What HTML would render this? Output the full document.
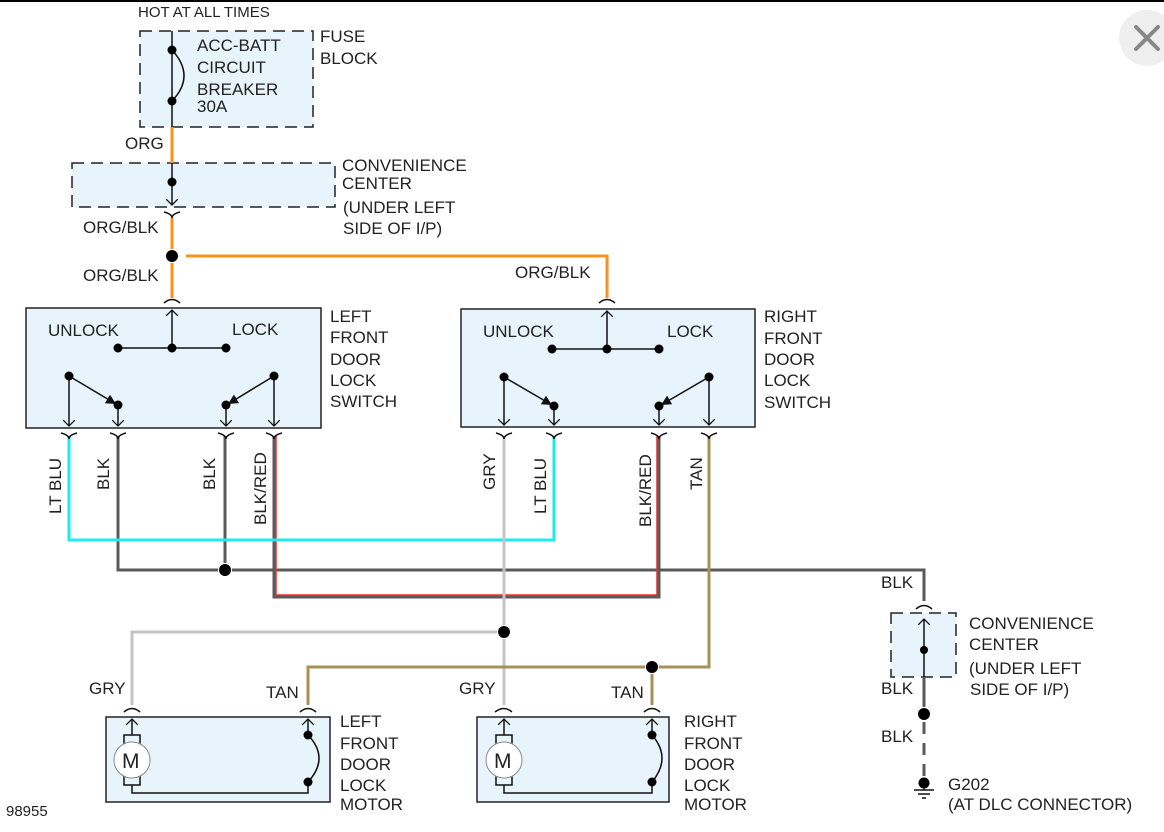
<!DOCTYPE html>
<html><head><meta charset="utf-8"><style>
html,body{margin:0;padding:0;background:#fff;}
svg{display:block;}
text{font-family:"Liberation Sans",sans-serif;font-size:17px;fill:#222;}
</style></head><body>
<svg width="1164" height="832" viewBox="0 0 1164 832" xmlns="http://www.w3.org/2000/svg">
<defs>
<marker id="ar" markerWidth="12" markerHeight="12" refX="6" refY="6" orient="auto" markerUnits="userSpaceOnUse">
<path d="M0,0 L6,6 L0,12" fill="none" stroke="#111" stroke-width="1.3"/>
</marker>
<marker id="af" markerWidth="12" markerHeight="10" refX="10" refY="5" orient="auto" markerUnits="userSpaceOnUse">
<path d="M0,0 L10,5 L0,10 z" fill="#111"/>
</marker>
</defs>
<rect x="0" y="0" width="1164" height="2" fill="#000"/>
<circle cx="1147" cy="38" r="28" fill="#efefef"/>
<path d="M1136,27 L1158,49 M1158,27 L1136,49" stroke="#888" stroke-width="4" stroke-linecap="round"/>

<g fill="#e8f4fb" stroke="#222" stroke-width="1.5">
<rect x="140" y="31" width="173" height="96" stroke-dasharray="12,7"/>
<rect x="72" y="163" width="263" height="44" stroke-dasharray="12,7"/>
<rect x="26" y="308" width="295" height="120"/>
<rect x="461" y="309" width="294" height="118"/>
<rect x="106" y="717" width="224" height="85"/>
<rect x="477" y="717" width="192" height="85"/>
<rect x="891" y="613" width="65" height="64" stroke-dasharray="12,7"/>
</g>

<g fill="none" stroke-width="3">
<path d="M172,127 V163" stroke="#f7931e"/>
<path d="M172,218 V249" stroke="#f7931e"/>
<path d="M172,263 V298" stroke="#f7931e"/>
<path d="M186,256 H607 V298" stroke="#f7931e"/>
<path d="M118,436 V570 H218" stroke="#5a5a5a"/>
<path d="M225,436 V563" stroke="#5a5a5a"/>
<path d="M232,570 H924 V601" stroke="#5a5a5a"/>
<path d="M274,436 V597 H659 V436" stroke="#5a5a5a"/>
<path d="M276,436 V595 H657 V436" stroke="#e8302a" stroke-width="1.5"/>
<path d="M69,436 V540 H554 V436" stroke="#1eeaf0"/>
<path d="M504,436 V625 M504,639 V705 M497,632 H132 V705" stroke="#c4c4c4"/>
<path d="M709,436 V667 H659 M645,667 H308 V705 M652,674 V705" stroke="#a89058"/>
<path d="M924,677 V707" stroke="#5a5a5a"/>
<path d="M924,722 V776" stroke="#5a5a5a" stroke-dasharray="12,9"/>
</g>

<g fill="none" stroke="#111" stroke-width="1.5">
<path d="M172,31 V127"/>
<path d="M172,50 Q196,76 172,101"/>
<path d="M172,163 V205" marker-end="url(#ar)"/>
<path d="M172,348 V310" marker-end="url(#ar)"/>
<path d="M118,348 H226"/>
<path d="M69,376 V426" marker-end="url(#ar)"/>
<path d="M69,376 L116,404" marker-end="url(#af)"/>
<path d="M118,405 V426" marker-end="url(#ar)"/>
<path d="M274,376 L228,404" marker-end="url(#af)"/>
<path d="M226,405 V426" marker-end="url(#ar)"/>
<path d="M274,376 V426" marker-end="url(#ar)"/>
<path d="M607,349 V311" marker-end="url(#ar)"/>
<path d="M552,349 H659"/>
<path d="M504,377 V425" marker-end="url(#ar)"/>
<path d="M504,377 L552,405" marker-end="url(#af)"/>
<path d="M554,406 V425" marker-end="url(#ar)"/>
<path d="M709,377 L661,405" marker-end="url(#af)"/>
<path d="M659,406 V425" marker-end="url(#ar)"/>
<path d="M709,377 V425" marker-end="url(#ar)"/>
<path d="M164,212 Q172,214 172,218 Q172,214 180,212"/>
<path d="M164,303 Q172,296 180,303"/>
<path d="M599,303 Q607,296 615,303"/>
<g id="cb">
<path d="M61,433 Q69,435 69,439 Q69,435 77,433"/>
</g>
<use href="#cb" x="49"/><use href="#cb" x="157"/><use href="#cb" x="205"/>
<use href="#cb" x="435"/><use href="#cb" x="485"/><use href="#cb" x="590"/><use href="#cb" x="640"/>
<path d="M124,712 Q132,705 140,712"/>
<path d="M300,712 Q308,705 316,712"/>
<path d="M495,712 Q504,705 512,712"/>
<path d="M644,712 Q652,705 660,712"/>
<path d="M916,609 Q924,602 932,609"/>
<path d="M132,735 V719" marker-end="url(#ar)"/>
<rect x="124" y="735" width="16" height="50" fill="none"/>
<path d="M132,785 V793 H308 V782"/>
<path d="M308,782 Q330,758 308,735"/>
<path d="M308,735 V719" marker-end="url(#ar)"/>
<path d="M504,735 V719" marker-end="url(#ar)"/>
<rect x="496" y="735" width="16" height="50" fill="none"/>
<path d="M504,785 V793 H652 V782"/>
<path d="M652,782 Q672,758 652,735"/>
<path d="M652,735 V719" marker-end="url(#ar)"/>
<path d="M924,650 V619" marker-end="url(#ar)"/>
<path d="M924,650 V677"/>
<path d="M924,783 V790 M914,790 H934 M918,794 H930 M922,798 H926"/>
</g>
<circle cx="132" cy="760" r="18" fill="#fff" stroke="#888" stroke-width="1"/>
<circle cx="504" cy="760" r="18" fill="#fff" stroke="#888" stroke-width="1"/>
<text x="122" y="768" style="font-size:21px">M</text>
<text x="494" y="768" style="font-size:21px">M</text>

<g fill="#000">
<circle cx="172" cy="50" r="4.5"/><circle cx="172" cy="101" r="4.5"/>
<circle cx="172" cy="182" r="4.5"/><circle cx="172" cy="256" r="6"/>
<circle cx="118" cy="348" r="4.5"/><circle cx="172" cy="348" r="4.5"/><circle cx="226" cy="348" r="4.5"/>
<circle cx="69" cy="376" r="4.5"/><circle cx="118" cy="405" r="4.5"/><circle cx="226" cy="405" r="4.5"/><circle cx="274" cy="376" r="4.5"/>
<circle cx="552" cy="349" r="4.5"/><circle cx="607" cy="349" r="4.5"/><circle cx="659" cy="349" r="4.5"/>
<circle cx="504" cy="377" r="4.5"/><circle cx="554" cy="406" r="4.5"/><circle cx="659" cy="406" r="4.5"/><circle cx="709" cy="377" r="4.5"/>
<circle cx="225" cy="570" r="6"/><circle cx="504" cy="632" r="6"/><circle cx="652" cy="667" r="6"/>
<circle cx="308" cy="735" r="4.5"/><circle cx="308" cy="782" r="4.5"/>
<circle cx="652" cy="735" r="4.5"/><circle cx="652" cy="782" r="4.5"/>
<circle cx="924" cy="650" r="4"/><circle cx="924" cy="714" r="6"/><circle cx="924" cy="783" r="5.5"/>
</g>

<text x="138" y="17" style="font-size:15px">HOT AT ALL TIMES</text>
<text x="197" y="51">ACC-BATT</text><text x="197" y="73">CIRCUIT</text><text x="197" y="95">BREAKER</text><text x="197" y="112">30A</text>
<text x="320" y="42">FUSE</text><text x="320" y="64">BLOCK</text>
<text x="125" y="149">ORG</text>
<text x="342" y="171">CONVENIENCE</text><text x="342" y="189">CENTER</text><text x="343" y="213">(UNDER LEFT</text><text x="343" y="234">SIDE OF I/P)</text>
<text x="83" y="233">ORG/BLK</text><text x="83" y="281">ORG/BLK</text><text x="515" y="278">ORG/BLK</text>
<text x="48" y="336">UNLOCK</text><text x="232" y="335">LOCK</text>
<text x="483" y="337">UNLOCK</text><text x="667" y="337">LOCK</text>
<text x="330" y="322">LEFT</text><text x="330" y="343">FRONT</text><text x="330" y="365">DOOR</text><text x="330" y="386">LOCK</text><text x="330" y="407">SWITCH</text>
<text x="764" y="322">RIGHT</text><text x="764" y="344">FRONT</text><text x="764" y="365">DOOR</text><text x="764" y="386">LOCK</text><text x="764" y="408">SWITCH</text>
<text transform="translate(61,514) rotate(-90)">LT BLU</text>
<text transform="translate(109,490) rotate(-90)">BLK</text>
<text transform="translate(215,490) rotate(-90)">BLK</text>
<text transform="translate(266,525) rotate(-90)">BLK/RED</text>
<text transform="translate(495,490) rotate(-90)">GRY</text>
<text transform="translate(546,514) rotate(-90)">LT BLU</text>
<text transform="translate(651,527) rotate(-90)">BLK/RED</text>
<text transform="translate(702,490) rotate(-90)">TAN</text>
<text x="89" y="694">GRY</text><text x="266" y="698">TAN</text>
<text x="459" y="694">GRY</text><text x="611" y="698">TAN</text>
<text x="340" y="727">LEFT</text><text x="340" y="749">FRONT</text><text x="340" y="770">DOOR</text><text x="340" y="791">LOCK</text><text x="340" y="810">MOTOR</text>
<text x="684" y="727">RIGHT</text><text x="684" y="749">FRONT</text><text x="684" y="770">DOOR</text><text x="684" y="791">LOCK</text><text x="684" y="810">MOTOR</text>
<text x="881" y="588">BLK</text><text x="881" y="694">BLK</text><text x="881" y="742">BLK</text>
<text x="969" y="629">CONVENIENCE</text><text x="969" y="650">CENTER</text><text x="969" y="674">(UNDER LEFT</text><text x="970" y="695">SIDE OF I/P)</text>
<text x="948" y="790">G202</text><text x="948" y="810">(AT DLC CONNECTOR)</text>
<text x="6" y="816" style="font-size:15px">98955</text>
</svg>
</body></html>
